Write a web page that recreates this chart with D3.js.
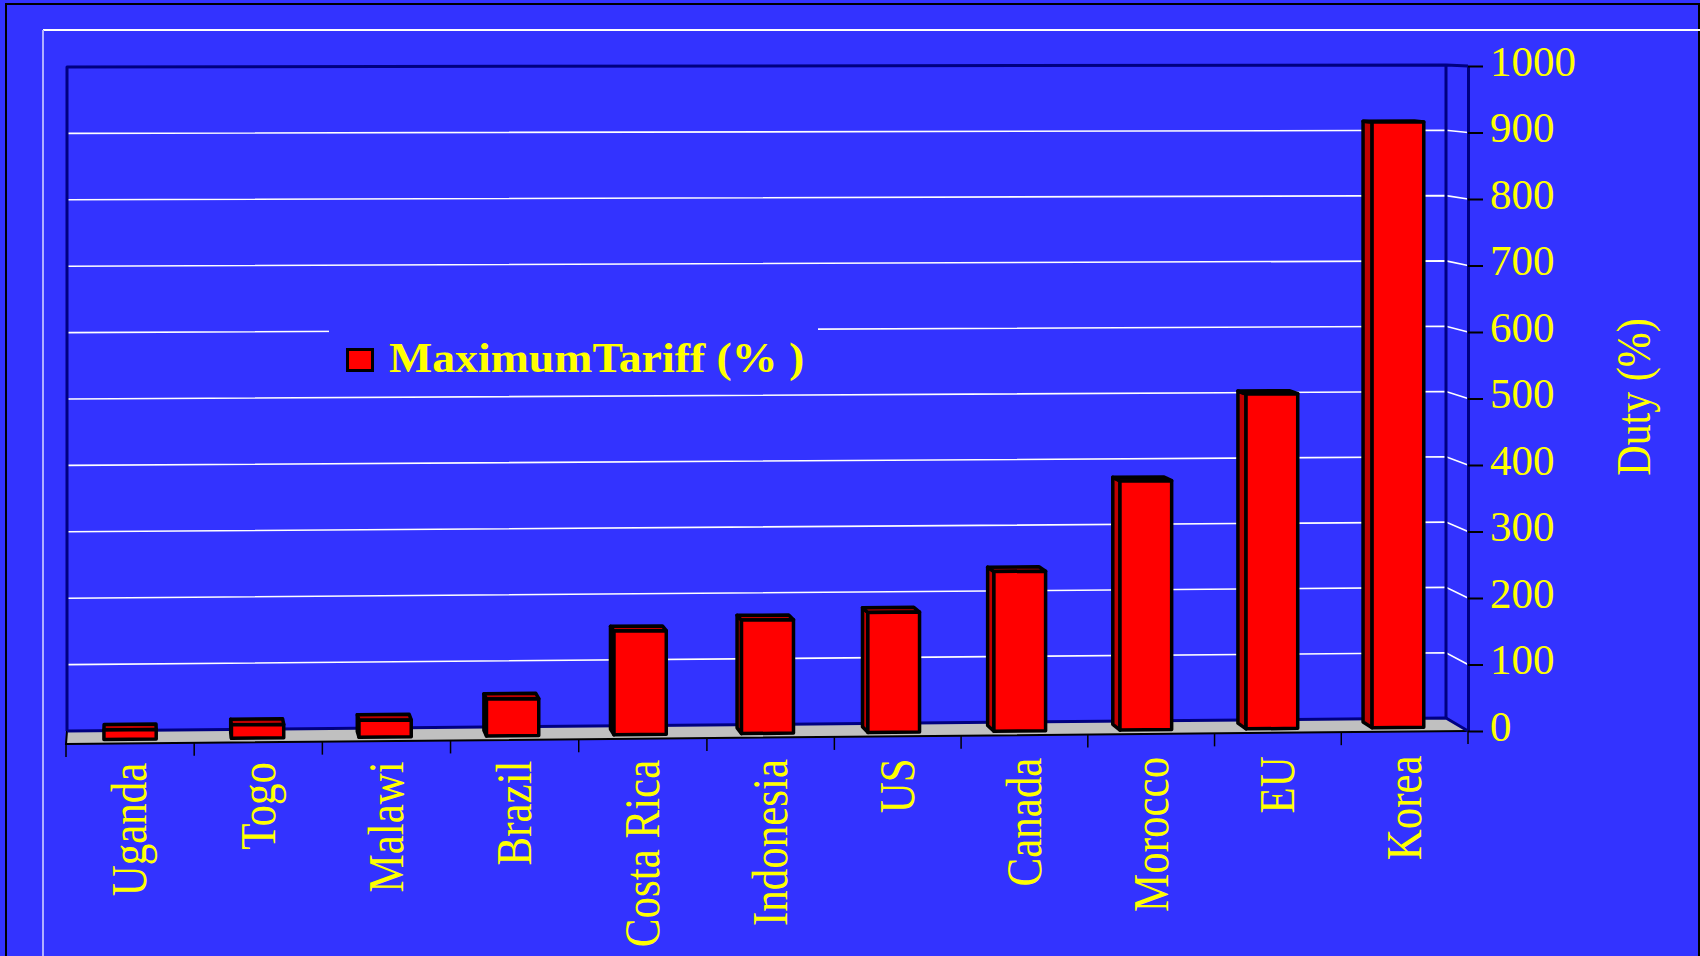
<!DOCTYPE html>
<html>
<head>
<meta charset="utf-8">
<script src="https://cdn.jsdelivr.net/npm/d3@7"></script>
<style>
  html, body { margin: 0; padding: 0; background: #3333ff; overflow: hidden; }
  svg { display: block; }
  text { font-family: "Times New Roman", "Liberation Serif", serif; fill: #ffff00; }
</style>
</head>
<body>
<svg id="chart" width="1700" height="956"></svg>
<script>
// ---- data ----
const categories = ["Uganda", "Togo", "Malawi", "Brazil", "Costa Rica", "Indonesia", "US", "Canada", "Morocco", "EU", "Korea"];
const maxTariff = [14, 20, 25, 55, 155, 170, 180, 240, 375, 505, 915];
const dutyTicks = [0, 100, 200, 300, 400, 500, 600, 700, 800, 900, 1000];
const seriesName = "MaximumTariff (% )";
const axisTitle = "Duty (%)";

// ---- colours ----
const BG = "#3333ff", NAVY = "#000080", FLOOR = "#c0c0c0";
const RED = "#ff0000", DARKRED = "#c00000";

const svg = d3.select("#chart");
svg.append("rect").attr("width", 1700).attr("height", 956).attr("fill", BG);

// slide frame
svg.append("path").attr("d", "M6,956 V4 H1699 V956").attr("fill", "none")
   .attr("stroke", "#000").attr("stroke-width", 2);
svg.append("line").attr("x1", 43).attr("y1", 30).attr("x2", 1700).attr("y2", 30)
   .attr("stroke", "#ffffff").attr("stroke-width", 2);
svg.append("line").attr("x1", 43).attr("y1", 30).attr("x2", 43).attr("y2", 956)
   .attr("stroke", "#b0b0ff").attr("stroke-width", 2);

// ---- 3-D projection: u = horizontal position (0..1), v = value, d = depth (0 back .. 1 front) ----
const yMax = d3.max(dutyTicks);
const frac = d3.scaleLinear().domain([0, yMax]).range([0, 1]);
// slight perspective bulge across the width
const xBack = d3.scaleLinear().domain([0, 0.5, 1]).range([67, 760.5, 1446]);
const xFront = d3.scaleLinear().domain([0, 0.5, 1]).range([66, 771, 1468]);
const baseBack = d3.scaleLinear().domain([0, 1]).range([731, 718]);
const topBack = d3.scaleLinear().domain([0, 1]).range([67, 65]);
const baseFront = d3.scaleLinear().domain([0, 1]).range([744, 731]);
const topFront = d3.scaleLinear().domain([0, 1]).range([66, 66]);

function P(u, v, d) {
  const xb = xBack(u), xf = xFront(u);
  const yb = baseBack(u) + (topBack(u) - baseBack(u)) * frac(v);
  const yf = baseFront(u) + (topFront(u) - baseFront(u)) * frac(v);
  return [xb + d * (xf - xb), yb + d * (yf - yb)];
}
const line = d3.line();
const poly = pts => line(pts) + "Z";

// category band along u
const band = d3.scaleBand().domain(categories).range([0, 1])
  .paddingInner(0.59).paddingOuter(0.295);
const step = 1 / categories.length;

// floor
svg.append("path")
  .attr("d", poly([P(0, 0, 0), P(1, 0, 0), P(1, 0, 1), P(0, 0, 1)]))
  .attr("fill", FLOOR).attr("stroke", "none");
svg.append("path").attr("d", line([P(0, 0, 0), P(0, 0, 1), P(1, 0, 1)]))
  .attr("fill", "none").attr("stroke", "#000").attr("stroke-width", 2);

// gridlines across back wall and right side wall
const grid = dutyTicks.filter(t => t > 0 && t < yMax);
svg.append("g").selectAll("path").data(grid).join("path")
  .attr("d", t => line([P(0, t, 0), P(1, t, 0), P(1, t, 1)]))
  .attr("fill", "none").attr("stroke", "#ffffff").attr("stroke-width", 1.6);

// wall edges
const wallEdges = [
  [P(0, 0, 0), P(0, yMax, 0), P(1, yMax, 0), P(1, yMax, 1)],
  [P(1, yMax, 0), P(1, 0, 0)],
  [P(0, 0, 0), P(1, 0, 0), P(1, 0, 1)]
];
svg.append("g").selectAll("path").data(wallEdges).join("path")
  .attr("d", d => line(d)).attr("fill", "none")
  .attr("stroke", NAVY).attr("stroke-width", 3).attr("stroke-linejoin", "round");

// legend (box hides the gridline behind it)
const lg = svg.append("g");
lg.append("rect").attr("x", 329).attr("y", 318).attr("width", 489).attr("height", 72).attr("fill", BG);
lg.append("rect").attr("x", 347.5).attr("y", 349.5).attr("width", 25).attr("height", 21)
  .attr("fill", RED).attr("stroke", "#000").attr("stroke-width", 3);
lg.append("text").attr("transform", "translate(389,372) scale(1.09,1)")
  .attr("font-size", 42).attr("font-weight", "bold").text(seriesName);

// ---- bars ----
const dBack = 0.24, dFront = 0.68;
const bars = categories.map((c, i) => ({
  c, v: maxTariff[i], u0: band(c), u1: band(c) + band.bandwidth()
}));
const barG = svg.append("g").selectAll("g").data(bars).join("g")
  .attr("stroke", "#000").attr("stroke-width", 3.5).attr("stroke-linejoin", "round");

barG.each(function (b) {
  const g = d3.select(this);
  const leftShift = (xFront(b.u0) - xBack(b.u0));
  const rightShift = (xFront(b.u1) - xBack(b.u1));
  if (leftShift > 0) {
    g.append("path").attr("fill", DARKRED)
      .attr("d", poly([P(b.u0, 0, dBack), P(b.u0, 0, dFront), P(b.u0, b.v, dFront), P(b.u0, b.v, dBack)]));
  }
  if (rightShift < 0) {
    g.append("path").attr("fill", DARKRED)
      .attr("d", poly([P(b.u1, 0, dBack), P(b.u1, 0, dFront), P(b.u1, b.v, dFront), P(b.u1, b.v, dBack)]));
  }
  g.append("path").attr("fill", DARKRED)
    .attr("d", poly([P(b.u0, b.v, dBack), P(b.u1, b.v, dBack), P(b.u1, b.v, dFront), P(b.u0, b.v, dFront)]));
  g.append("path").attr("fill", RED)
    .attr("d", poly([P(b.u0, 0, dFront), P(b.u1, 0, dFront), P(b.u1, b.v, dFront), P(b.u0, b.v, dFront)]));
});

// ---- category ticks and labels on the front floor edge ----
const tickU = d3.range(categories.length + 1).map(k => k * step);
svg.append("g").selectAll("line").data(tickU).join("line")
  .attr("x1", u => P(u, 0, 1)[0]).attr("x2", u => P(u, 0, 1)[0])
  .attr("y1", u => P(u, 0, 1)[1]).attr("y2", u => P(u, 0, 1)[1] + 13)
  .attr("stroke", "#000").attr("stroke-width", 1.5);

svg.append("g").selectAll("text").data(categories).join("text")
  .attr("transform", c => {
    const uc = band(c) + band.bandwidth() / 2;
    const x = P(uc, 0, 1)[0];
    const y = 763 - 8 * uc;
    return `translate(${x},${y}) rotate(-90) scale(1,1.17)`;
  })
  .attr("text-anchor", "end").attr("y", 14).attr("font-size", 43)
  .text(c => c);

// ---- value axis on the front right edge ----
const yFront = d3.scaleLinear().domain([0, yMax]).range([P(1, 0, 1)[1], P(1, yMax, 1)[1]]);
const axis = svg.append("g").attr("transform", `translate(${P(1, 0, 1)[0]},0)`)
  .call(d3.axisRight(yFront).tickValues(dutyTicks).tickFormat(d3.format("d"))
    .tickSize(15).tickSizeOuter(0).tickPadding(7));
axis.select(".domain").attr("stroke", NAVY).attr("stroke-width", 3);
axis.selectAll(".tick line").attr("stroke", "#000").attr("stroke-width", 2);
axis.selectAll(".tick text").attr("fill", "#ffff00").attr("font-size", 43)
  .attr("font-family", "\"Times New Roman\", \"Liberation Serif\", serif")
  .attr("dy", "0.21em");

// axis title
svg.append("text").attr("transform", "translate(1650,397) rotate(-90) scale(1,1.17)")
  .attr("text-anchor", "middle").attr("font-size", 42).text(axisTitle);
</script>
</body>
</html>
